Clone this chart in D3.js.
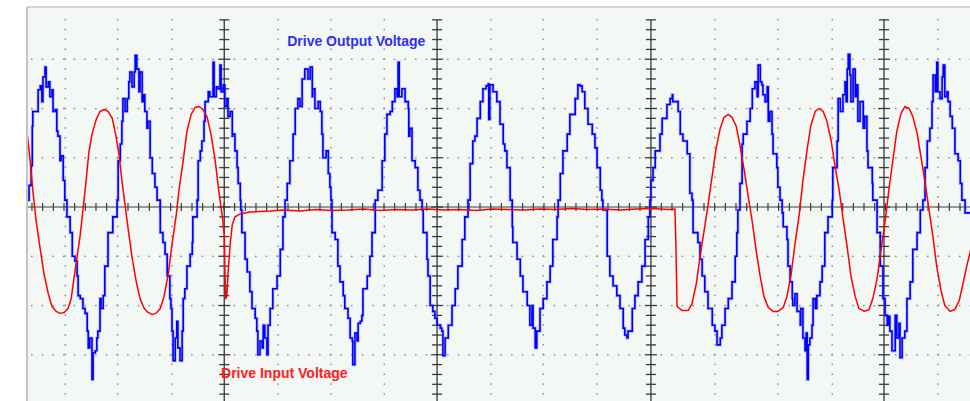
<!DOCTYPE html>
<html><head><meta charset="utf-8">
<script src="https://cdn.jsdelivr.net/npm/d3@7"></script>
<style>html,body{margin:0;padding:0;background:#fff;} svg{display:block;}</style>
</head><body>
<svg id="chart" width="970" height="401"></svg>
<script>
// time in ms, voltage in V (scope trace)
const outputVoltage = [
[2.8,14],[3.2,44],[3.6,84],[3.8,164],[3.9,194],[4.5,194],[4.9,238],[5.3,246],[5.6,214],[5.8,264],[6.2,284],[6.4,244],[6.8,254],[7.1,224],[7.5,238],[7.7,194],[8.1,198],[8.4,154],[8.6,144],[9.0,94],[9.2,104],[9.6,54],[9.9,14],
[10.3,-20],[10.9,-52],[11.3,-100],[11.8,-110],[12.2,-140],[12.4,-180],[12.8,-186],[13.3,-206],[13.7,-216],[14.1,-252],[14.3,-286],[14.6,-266],[15.0,-350],[15.2,-296],[15.6,-292],[15.9,-266],[16.1,-252],[16.5,-186],[16.7,-206],[17.1,-180],[17.4,-120],[18.0,-52],[18.9,-20],[19.7,14],
[19.9,94],[20.3,128],[20.6,174],[20.8,220],[21.2,194],[21.6,220],[21.9,254],[22.1,274],[22.5,244],[22.9,274],[23.1,308],[23.4,280],[23.8,234],[24.0,274],[24.4,214],[24.6,228],[24.9,194],[25.3,160],[25.5,174],[25.9,100],[26.3,68],[26.8,40],[27.2,14],
[27.8,-52],[28.3,-72],[28.7,-96],[29.1,-140],[29.6,-186],[29.8,-206],[30.0,-252],[30.2,-312],[30.6,-266],[30.9,-232],[31.1,-286],[31.5,-312],[31.9,-252],[32.1,-186],[32.4,-166],[32.8,-120],[33.4,-96],[33.8,-72],[33.9,-20],[34.7,14],
[34.9,94],[35.3,114],[35.6,134],[36.0,174],[36.2,214],[36.8,234],[37.1,224],[37.7,294],[37.9,224],[38.3,244],[38.6,240],[39.0,288],[39.2,234],[39.6,248],[39.9,204],[40.3,220],[40.5,184],[40.9,194],[41.3,144],[41.4,148],[41.8,114],[42.2,80],[42.4,48],[42.8,14],
[42.9,-6],[43.1,-52],[43.7,-106],[44.1,-132],[44.6,-172],[45.0,-206],[45.6,-226],[45.9,-252],[46.1,-300],[46.5,-272],[46.9,-286],[47.1,-240],[47.4,-266],[47.8,-300],[48.0,-240],[48.4,-206],[48.9,-166],[49.7,-140],[50.3,-86],[50.8,-20],[51.2,14],
[51.6,48],[52.1,94],[52.7,148],[53.1,200],[53.6,220],[54.0,204],[54.4,260],[54.9,280],[55.5,260],[55.9,284],[56.3,224],[56.4,240],[56.8,200],[57.4,214],[57.8,194],[58.1,148],[58.3,100],[58.9,114],[59.3,68],[59.6,40],[59.8,14],
[60.0,-52],[60.6,-66],[61.1,-120],[61.5,-152],[62.1,-180],[62.4,-206],[63.0,-226],[63.4,-266],[63.8,-272],[63.9,-320],[64.3,-256],[64.7,-272],[64.9,-236],[65.3,-232],[65.6,-220],[65.8,-166],[66.6,-140],[67.1,-100],[67.5,-52],[68.1,14],
[68.6,34],[69.4,94],[69.9,148],[70.3,188],[70.9,194],[71.3,214],[71.8,240],[72.2,224],[72.4,294],[72.6,224],[73.1,240],[73.7,214],[74.3,200],[74.4,144],[74.6,160],[75.0,94],[75.6,80],[76.1,34],[76.5,14],
[76.9,-6],[77.1,-52],[77.8,-106],[78.0,-140],[78.4,-200],[78.9,-212],[79.3,-226],[79.7,-240],[80.3,-246],[80.6,-252],[80.8,-302],[81.2,-266],[81.8,-240],[82.5,-200],[83.1,-166],[83.6,-120],[84.4,-66],[84.9,-20],[85.5,14],
[85.9,88],[86.4,134],[86.8,144],[87.2,180],[87.8,214],[88.3,240],[88.9,246],[89.3,250],[89.4,178],[89.6,248],[90.2,234],[90.9,214],[91.5,168],[92.1,128],[92.4,114],[92.8,80],[93.4,14],
[93.8,-40],[93.9,-72],[94.7,-106],[95.3,-140],[95.8,-172],[96.6,-200],[97.1,-240],[97.5,-200],[97.7,-246],[98.1,-286],[98.4,-252],[99.0,-206],[99.6,-186],[100.3,-152],[100.9,-120],[101.4,-66],[102.2,-20],[102.4,14],
[102.8,68],[103.3,114],[104.1,148],[104.6,188],[105.6,220],[106.1,248],[106.5,246],[106.9,234],[107.4,200],[108.0,168],[108.8,148],[109.3,120],[109.7,80],[110.3,34],[110.6,14],
[110.8,-6],[111.6,-100],[112.1,-140],[112.7,-160],[113.4,-180],[114.0,-206],[114.6,-246],[114.9,-260],[115.3,-266],[115.5,-252],[116.3,-206],[116.8,-180],[117.4,-152],[118.1,-120],[118.7,-66],[119.3,-20],[119.6,14],
[119.8,54],[120.2,80],[120.6,114],[121.5,148],[121.9,180],[122.8,208],[123.4,220],[123.8,228],[123.9,214],[124.9,194],[125.3,148],[125.8,134],[126.6,108],[127.1,28],[127.5,14],
[127.7,-52],[128.6,-72],[129.0,-106],[129.4,-140],[129.9,-172],[130.5,-206],[131.3,-240],[131.8,-252],[132.2,-280],[132.8,-266],[133.1,-240],[133.7,-206],[134.3,-186],[135.0,-152],[135.6,-100],[135.9,-52],[136.1,-6],
[136.5,48],[136.9,128],[137.1,148],[137.8,174],[138.4,200],[138.8,240],[139.3,254],[139.7,224],[139.9,288],[140.3,254],[140.6,248],[140.8,228],[141.2,214],[141.6,244],[141.8,174],[142.1,194],[142.5,148],[142.7,108],[143.4,80],[143.6,40],[144.0,14],
[144.4,-12],[144.6,-40],[145.3,-66],[145.5,-120],[145.9,-152],[146.3,-186],[146.4,-200],[146.8,-176],[147.2,-212],[147.8,-240],[147.9,-206],[148.3,-266],[148.7,-292],[148.9,-256],[149.1,-350],[149.3,-280],[149.6,-266],[150.0,-240],[150.2,-186],[150.6,-206],[150.9,-180],[151.5,-152],[151.9,-120],[152.4,-52],[153.0,-20],[153.8,14],
[153.9,80],[154.7,134],[154.9,220],[155.3,194],[155.8,228],[156.2,254],[156.4,214],[156.6,280],[156.8,310],[157.1,268],[157.3,214],[157.7,280],[158.1,224],[158.4,248],[158.6,174],[159.0,214],[159.6,160],[159.9,184],[160.3,114],[160.5,80],[161.3,48],[161.4,14],
[162.2,-52],[162.8,-120],[163.3,-186],[163.7,-220],[164.1,-240],[164.4,-222],[164.6,-252],[165.0,-292],[165.6,-220],[165.9,-266],[166.3,-236],[166.5,-306],[166.9,-266],[167.4,-252],[167.8,-186],[168.4,-152],[168.9,-86],[169.7,-52],[170.3,-6],[170.8,14],
[171.2,80],[171.6,134],[172.1,160],[172.5,214],[172.7,268],[173.1,234],[173.4,294],[173.6,234],[174.0,220],[174.4,264],[174.6,288],[174.9,224],[175.3,234],[175.5,214],[175.9,184],[176.3,160],[176.8,108],[177.4,94],[177.8,48],[178.1,14],[178.7,-12],[179.6,-12],[180.0,-16]
];

const inputVoltage = [
[2.8,154],[3.4,94],[3.9,34],[4.5,-26],[5.3,-86],[6.0,-136],[6.8,-176],[7.5,-202],[8.3,-212],[9.0,-216],[9.8,-214],[10.5,-206],[11.1,-186],[11.6,-146],[12.2,-102],[12.8,-56],[13.3,-6],[13.9,54],[14.4,110],[15.0,148],[15.8,178],[16.5,194],[17.3,198],[18.0,194],[18.8,180],[19.5,144],[20.1,104],[20.6,54],[21.2,4],[21.8,-46],[22.5,-102],[23.3,-152],[24.0,-186],[24.8,-206],[25.5,-214],[26.3,-218],[27.0,-216],[27.8,-206],[28.5,-182],[29.3,-136],[30.0,-76],[30.8,-16],[31.3,34],[32.1,94],[32.8,154],[33.6,188],[34.3,202],[35.1,204],[35.8,198],[36.6,182],[37.3,148],[38.1,94],[38.8,30],[39.4,-16],[39.8,-56],[39.9,-126],[40.1,-186],[40.3,-178],[40.5,-136],[40.9,-76],[41.3,-36],[41.8,-20],[42.8,-14],[44.6,-10],[48.4,-8],
[51,-6],[54,-8],[57,-5],[60,-7],[63,-6],[66,-4],[69,-7],[72,-5],[75,-6],[78,-4],[81,-6],[84,-5],[87,-7],[90,-4],[93,-5],[96,-6],[99,-4],[102,-5],[105,-3],[108,-5],[111,-4],[114,-6],[117,-4],[120,-3],[123,-5],
[124.3,-4],[124.5,-86],[124.7,-202],[125.6,-210],[126.8,-210],[127.5,-196],[128.3,-156],[129.0,-102],[129.8,-46],[130.5,4],[131.3,64],[132.0,118],[132.8,160],[133.5,182],[134.3,188],[135.0,182],[135.8,164],[136.5,124],[137.3,74],[138.0,24],[138.8,-30],[139.5,-86],[140.3,-142],[141.0,-182],[141.8,-204],[142.7,-212],[143.6,-212],[144.6,-204],[145.3,-182],[146.1,-136],[146.8,-76],[147.6,-16],[148.3,54],[149.1,118],[149.8,166],[150.6,194],[151.3,200],[152.1,194],[152.8,174],[153.6,134],[154.3,84],[155.1,34],[155.8,-22],[156.6,-82],[157.3,-140],[158.1,-182],[158.8,-206],[159.8,-212],[160.7,-208],[161.4,-186],[162.2,-146],[162.9,-90],[163.7,-30],[164.4,34],[165.2,98],[165.9,154],[166.7,190],[167.4,204],[168.2,200],[168.9,184],[169.7,150],[170.4,104],[171.2,50],[171.9,-2],[172.7,-62],[173.4,-122],[174.2,-170],[174.9,-200],[175.9,-212],[176.8,-208],[177.6,-190],[178.3,-156],[179.1,-116],[180.0,-76]
];

// graticule (as drawn on the scope picture)
const gridTimes = [10,19.8,30,39.8,49.9,59.8,69.8,79.7,89.8,99.6,109.7,119.8,131.8,143.6,153.8,163.5,173.6];
const majorTimes = [39.8,79.7,119.8,163.5];
const gridVolts = [-300,-200,-100,100,200,300];
const seriesNames = ["Drive Output Voltage","Drive Input Voltage"];
const seriesColors = ["#0000ff","#ff0000"];

const W = 970, H = 401;
const plot = {left:27, top:7, right:970, bottom:401};
const x = d3.scaleLinear().domain([0,180]).range([12,972]);
const y = d3.scaleLinear().domain([-400,400]).range([404,10]);

const svg = d3.select("#chart");
svg.append("rect").attr("width",W).attr("height",H).attr("fill","#ffffff");
svg.append("defs").append("clipPath").attr("id","clip")
  .append("rect").attr("x",plot.left).attr("y",plot.top)
  .attr("width",plot.right-plot.left).attr("height",plot.bottom-plot.top);

svg.append("rect").attr("x",plot.left).attr("y",plot.top)
  .attr("width",plot.right-plot.left).attr("height",plot.bottom-plot.top)
  .attr("fill","#f4f8f5");

const g = svg.append("g").attr("clip-path","url(#clip)");

// dotted graticule
const minorT = d3.range(-0.25, 181, 2);
const minorV = d3.range(-400, 401, 20);
const dots = g.append("g").attr("fill","#8a8a8a");
gridVolts.forEach(v => {
  minorT.forEach(t => dots.append("rect").attr("x",x(t)-1).attr("y",y(v)-0.6).attr("width",1.6).attr("height",1.4));
});
gridTimes.filter(t => !majorTimes.includes(t)).forEach(t => {
  minorV.filter(v => v <= 380).forEach(v => dots.append("rect").attr("x",x(t)-0.7).attr("y",y(v)-1).attr("width",1.4).attr("height",1.6));
});

// centre horizontal axis with ticks
const ax = g.append("g").attr("stroke","#3a3a3a");
ax.append("line").attr("x1",plot.left).attr("x2",plot.right).attr("y1",y(0)).attr("y2",y(0)).attr("stroke-width",1.2);
minorT.forEach(t => ax.append("line").attr("x1",x(t)).attr("x2",x(t)).attr("y1",y(0)-4).attr("y2",y(0)+4).attr("stroke-width",1.2));

// major vertical axes with ticks
majorTimes.forEach(t => {
  ax.append("line").attr("x1",x(t)).attr("x2",x(t)).attr("y1",y(380)).attr("y2",plot.bottom).attr("stroke-width",1.4).attr("stroke","#444");
  minorV.filter(v => v <= 380).forEach(v => {
    const w = (v % 100 === 0) ? 6 : 5;
    ax.append("line").attr("x1",x(t)-w).attr("x2",x(t)+w).attr("y1",y(v)).attr("y2",y(v)).attr("stroke-width",1.3);
  });
});

// traces
const stepLine = d3.line().curve(d3.curveStepAfter).x(d => x(d[0])).y(d => y(d[1]));
const line = d3.line().x(d => x(d[0])).y(d => y(d[1]));
g.append("path").datum(outputVoltage).attr("d",stepLine).attr("fill","none")
  .attr("stroke","#6a6aff").attr("stroke-opacity",0.4).attr("stroke-width",3.2);
g.append("path").datum(outputVoltage).attr("d",stepLine).attr("fill","none")
  .attr("stroke",seriesColors[0]).attr("stroke-width",1.6);
g.append("path").datum(inputVoltage).attr("d",line).attr("fill","none")
  .attr("stroke",seriesColors[1]).attr("stroke-width",1.5).attr("stroke-linejoin","round");

// frame
svg.append("line").attr("x1",plot.left).attr("x2",plot.right).attr("y1",plot.top).attr("y2",plot.top).attr("stroke","#d4d4d4").attr("stroke-width",2);
svg.append("line").attr("x1",plot.left).attr("x2",plot.left).attr("y1",plot.top).attr("y2",plot.bottom).attr("stroke","#c4c4c4").attr("stroke-width",2);

// labels
svg.append("text").attr("x",x(51.6)).attr("y",y(327)).text(seriesNames[0])
  .attr("fill","#3030ee").attr("font-family","Liberation Sans, Arial, sans-serif").attr("font-weight","bold").attr("font-size",14);
svg.append("text").attr("x",x(39.2)).attr("y",y(-348)).text(seriesNames[1])
  .attr("fill","#ff2020").attr("font-family","Liberation Sans, Arial, sans-serif").attr("font-weight","bold").attr("font-size",14);
</script>
</body></html>
